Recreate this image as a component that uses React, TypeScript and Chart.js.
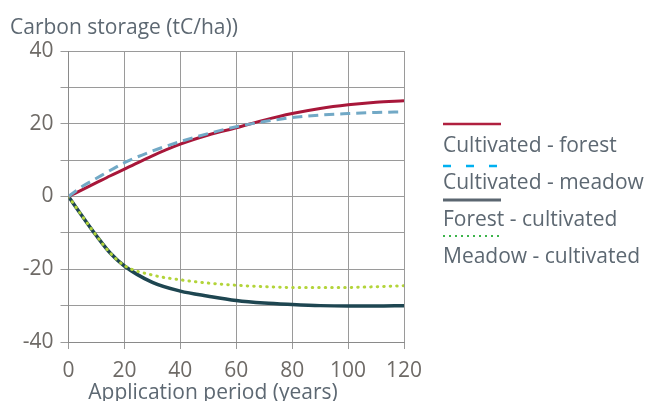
import React, { useEffect, useRef } from "react";
import { Chart, registerables } from "chart.js";

Chart.register(...registerables);

const years = [0, 5, 10, 15, 20, 30, 40, 50, 60, 70, 80, 90, 100, 110, 120];
const cultivatedForest = [0, 1.9, 3.8, 5.7, 7.5, 11.2, 14.4, 16.9, 18.9, 21.0, 22.8, 24.2, 25.2, 25.9, 26.3];
const cultivatedMeadow = [0, 2.8, 5.0, 7.2, 9.3, 12.5, 15.1, 17.3, 19.2, 20.6, 21.7, 22.4, 22.8, 23.1, 23.3];
const forestCultivated = [0, -5.5, -10.8, -15.6, -19.1, -23.6, -26.0, -27.4, -28.6, -29.3, -29.7, -30.0, -30.1, -30.1, -30.0];
const meadowCultivated = [0, -5.5, -10.8, -15.6, -19.0, -21.6, -22.9, -23.8, -24.4, -24.8, -25.0, -25.0, -25.0, -24.8, -24.5];

const seriesNames = ["Cultivated - forest", "Cultivated - meadow", "Forest - cultivated", "Meadow - cultivated"];
const yTitle = "Carbon storage (tC/ha))";
const xTitle = "Application period (years)";

const FONT = "'Open Sans', sans-serif";
const TEXT = "#5d6872";
const TICK = "#6e6a66";

const toPoints = (ys: number[]) => years.map((x, i) => ({ x, y: ys[i] }));

export default function App() {
  const ref = useRef<HTMLCanvasElement | null>(null);
  useEffect(() => {
    if (!ref.current) return;
    const overlay = {
      id: "overlay",
      afterDraw(chart: any) {
        const ctx = chart.ctx as CanvasRenderingContext2D;
        ctx.save();
        ctx.fillStyle = TEXT;
        ctx.font = `21px ${FONT}`;
        ctx.textBaseline = "alphabetic";
        ctx.textAlign = "left";
        ctx.fillText(yTitle, 10, 34);
        ctx.textAlign = "center";
        ctx.fillText(xTitle, 213, 399);
        // legend
        const lx = 443;
        const lw = 58;
        const samples = [
          { y: 124, color: "#b0203f", dash: [] as number[], width: 2.5 },
          { y: 166, color: "#00b0f0", dash: [8, 15], width: 2.5 },
          { y: 200, color: "#5b6670", dash: [] as number[], width: 3 },
          { y: 236, color: "#3cb44b", dash: [2, 4], width: 2 },
        ];
        const baselines = [152, 189, 226, 263];
        samples.forEach((s, i) => {
          ctx.beginPath();
          ctx.strokeStyle = s.color;
          ctx.lineWidth = s.width;
          ctx.setLineDash(s.dash);
          ctx.lineCap = "butt";
          ctx.moveTo(lx, s.y);
          ctx.lineTo(lx + lw, s.y);
          ctx.stroke();
          ctx.setLineDash([]);
          ctx.fillStyle = TEXT;
          ctx.textAlign = "left";
          ctx.fillText(seriesNames[i], lx, baselines[i]);
        });
        ctx.restore();
      },
    };
    const chart = new Chart(ref.current, {
      type: "line",
      data: {
        datasets: [
          {
            label: seriesNames[0],
            data: toPoints(cultivatedForest),
            borderColor: "#a8173a",
            borderWidth: 3,
            pointRadius: 0,
            cubicInterpolationMode: "monotone",
            order: 2,
          },
          {
            label: seriesNames[1],
            data: toPoints(cultivatedMeadow),
            borderColor: "#72a9c6",
            borderWidth: 3,
            borderDash: [10, 6],
            pointRadius: 0,
            cubicInterpolationMode: "monotone",
            order: 1,
          },
          {
            label: seriesNames[2],
            data: toPoints(forestCultivated),
            borderColor: "#1e4651",
            borderWidth: 3.5,
            pointRadius: 0,
            cubicInterpolationMode: "monotone",
            order: 4,
          },
          {
            label: seriesNames[3],
            data: toPoints(meadowCultivated),
            borderColor: "#b3d43a",
            borderWidth: 3,
            borderDash: [0.5, 6],
            borderCapStyle: "round",
            pointRadius: 0,
            cubicInterpolationMode: "monotone",
            order: 3,
          },
        ],
      },
      options: {
        responsive: false,
        animation: false,
        devicePixelRatio: 1,
        layout: { padding: { left: 0, top: 51, right: 244, bottom: 0 } },
        plugins: { legend: { display: false }, tooltip: { enabled: false }, title: { display: false } },
        scales: {
          x: {
            type: "linear",
            min: 0,
            max: 120,
            ticks: { stepSize: 20, color: TICK, font: { family: FONT, size: 21 }, padding: 9, maxRotation: 0 },
            grid: { color: "#9a9a9a", lineWidth: 1, tickLength: 7 },
            border: { color: "#8a8a8a" },
            afterFit: (s: any) => { s.height = 59; },
          },
          y: {
            type: "linear",
            min: -40,
            max: 40,
            ticks: {
              stepSize: 10,
              color: TICK,
              font: { family: FONT, size: 21 },
              padding: 7,
              callback: (v: any) => (Number(v) % 20 === 0 ? String(v) : ""),
            },
            grid: { color: "#9a9a9a", lineWidth: 1, tickLength: 8 },
            border: { color: "#8a8a8a" },
            afterFit: (s: any) => { s.width = 68.5; },
          },
        },
      },
      plugins: [overlay],
    } as any);
    return () => chart.destroy();
  }, []);
  return (
    <div style={{ position: "fixed", left: 0, top: 0, width: 648, height: 401, background: "#fff" }}>
      <canvas ref={ref} width={648} height={401} />
    </div>
  );
}
